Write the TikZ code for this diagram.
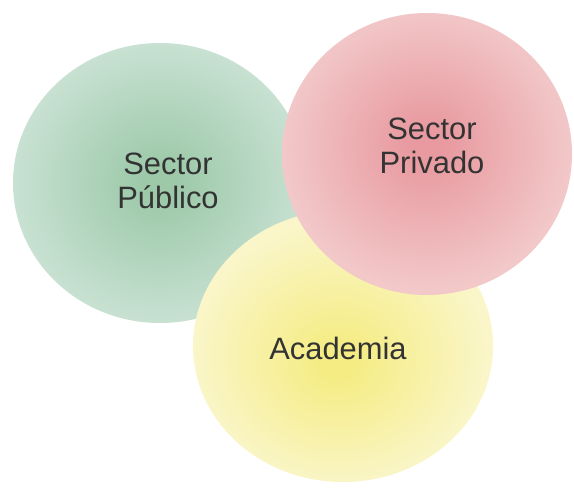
\documentclass[tikz,border=0pt]{standalone}
\usepackage{fontspec}
\setmainfont{Liberation Sans}
\usetikzlibrary{shapes.geometric}
\definecolor{gin}{HTML}{9DC9A9}
\definecolor{gout}{HTML}{C8E1D2}
\definecolor{rin}{HTML}{E89AA0}
\definecolor{rout}{HTML}{F2C8C9}
\definecolor{yin}{HTML}{F5EC84}
\definecolor{yout}{HTML}{FAF6CA}
\definecolor{txt}{HTML}{333333}
\pgfdeclareradialshading{gshade}{\pgfpoint{0bp}{0bp}}{color(0bp)=(gin); color(3bp)=(gin); color(25bp)=(gout); color(50bp)=(gout)}
\pgfdeclareradialshading{rshade}{\pgfpoint{0bp}{2bp}}{color(0bp)=(rin); color(3bp)=(rin); color(25bp)=(rout); color(50bp)=(rout)}
\pgfdeclareradialshading{yshade}{\pgfpoint{-1bp}{-3bp}}{color(0bp)=(yin); color(3bp)=(yin); color(25bp)=(yout); color(50bp)=(yout)}
\tikzset{
  blob/.style={ellipse, inner sep=0pt, draw=none},
  lbl/.style={text=txt, align=center, font=\fontsize{31}{34}\selectfont}
}
\begin{document}
\begin{tikzpicture}[x=1bp,y=-1bp]
\useasboundingbox[fill=white] (0,0) rectangle (574,489);
\node[blob, shading=gshade, minimum width=294bp, minimum height=280bp] (pub) at (160,183) {};
\node[blob, shading=yshade, minimum width=300bp, minimum height=272bp] (aca) at (343,346) {};
\node[blob, shading=rshade, minimum width=290bp, minimum height=282bp] (pri) at (427,154) {};
\node[lbl] (tpub) at (168,181) {Sector\\Público};
\node[lbl] (tpri) at (432,146) {Sector\\Privado};
\node[lbl] (taca) at (338,348) {Academia};
\end{tikzpicture}
\end{document}
